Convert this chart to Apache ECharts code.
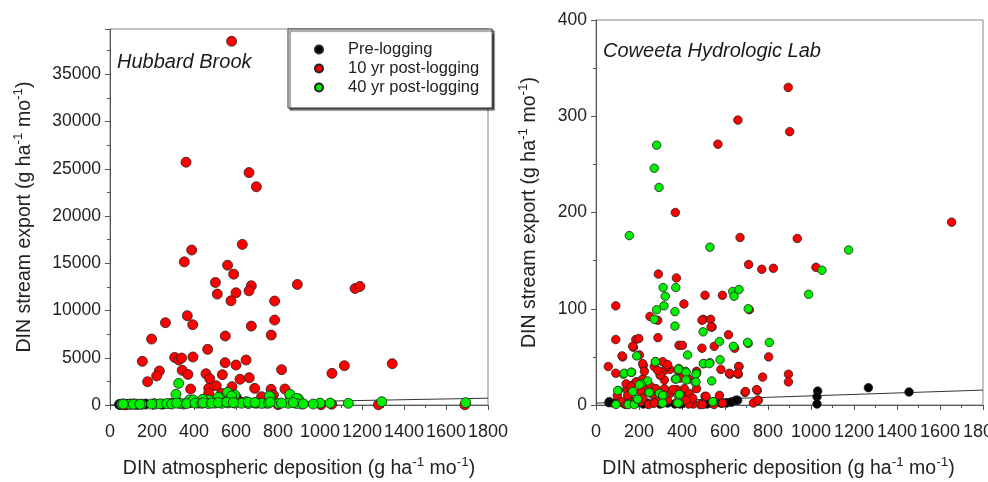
<!DOCTYPE html>
<html><head><meta charset="utf-8">
<script src="https://cdn.jsdelivr.net/npm/echarts@6/dist/echarts.min.js"></script>
<style>html,body{margin:0;padding:0;background:#fff}#c{width:988px;height:482px}</style>
</head><body><div id="c"></div>
<script>
// ---- Data (x = DIN atmospheric deposition, y = DIN stream export) ----
const seriesNames = ['Pre-logging', '10 yr post-logging', '40 yr post-logging'];
const xTicksMax = 1800;

const hbPre = [[45,60],[52,50],[60,100],[70,80],[80,60],[95,90],[110,100],[130,60],[170,100],[210,120],[250,90],[290,150],[330,200],[380,250],[420,200],[470,300],[520,350],[560,400],[600,850],[610,500],[650,300],[700,250],[740,200]];
const hb10 = [[579,38500],[362,25700],[662,24600],[697,23100],[630,17000],[389,16400],[354,15150],[560,14800],[589,13850],[502,12970],[673,12620],[892,12760],[1167,12330],[1190,12550],[511,11740],[600,11880],[662,12090],[576,11030],[784,11000],[368,9450],[264,8710],[394,8500],[784,8990],[673,8350],[198,6980],[549,7300],[768,7400],[465,5890],[154,4620],[308,5040],[327,4760],[341,4970],[395,5080],[548,4480],[600,4230],[648,4760],[817,3740],[235,3600],[222,3070],[344,3670],[371,3240],[457,3310],[475,2780],[535,3210],[619,2720],[663,2890],[179,2460],[1057,3350],[1116,4160],[1344,4370],[384,1690],[506,2040],[581,1940],[689,1760],[767,1660],[833,1690],[857,990],[470,1760],[470,1230],[532,1230],[738,700],[778,1060],[722,880],[1056,80],[1278,30],[1690,20],[800,40],[1005,30],[71,20],[290,150],[430,250],[620,300],[700,200],[520,400],[350,100]];
const hb40 = [[327,2290],[314,1130],[560,1340],[594,1060],[525,640],[765,880],[898,640],[379,530],[470,530],[648,350],[1294,350],[1694,250],[1135,180],[1048,200],[1000,200],[968,100],[913,100],[579,950],[516,810],[441,600],[759,950],[857,1130],[889,700],[397,530],[56,80],[95,80],[119,100],[151,80],[214,100],[238,120],[270,150],[294,100],[333,180],[365,150],[405,200],[437,180],[468,150],[500,200],[532,180],[563,220],[595,200],[627,180],[659,150],[690,200],[722,170],[754,180],[802,160],[849,180],[889,160],[63,100],[111,90],[143,80],[198,100],[317,200],[444,230],[484,200],[516,250],[556,300],[587,250],[659,300],[690,260],[762,300],[817,200],[873,250],[921,120]];
const hbFit = [[0,0],[1800,720]];

const cwPre = [[1267,18],[1456,13.5],[1031,14.5],[1028,8.6],[1028,1],[659,5],[631,3],[607,2],[585,2],[60,2.4],[81,2],[62,3.5],[109,3.5],[155,2],[240,2],[287,3],[333,2],[403,1.5],[450,2],[504,2],[581,2],[628,3],[651,5],[127,2],[189,2],[220,1],[267,2],[298,1],[329,3],[367,1],[391,1],[515,1],[533,2],[553,2]];
const cw10 = [[894,330],[660,296],[567,271],[901,284],[369,200],[1654,190],[670,174],[936,173],[710,146],[771,141],[825,142],[1023,143],[92,103],[290,136],[374,132],[507,114],[588,114],[409,105],[713,99],[251,92],[287,88],[499,89],[533,89],[540,81],[616,73],[92,68],[185,68],[199,69],[174,60],[288,70],[386,62],[402,62],[550,61],[645,59],[803,50],[124,50],[57,40],[92,33],[220,41],[313,35],[344,37],[318,26],[431,27],[468,35],[581,37],[623,32],[662,32],[665,40],[775,29],[895,32],[895,24],[693,13],[750,15],[755,5],[732,2],[507,9],[574,10],[468,17],[453,1],[484,0.5],[549,0.5],[99,10],[143,16],[163,20],[189,24],[217,27],[239,17],[264,11],[245,0.5],[208,3.5],[134,1],[344,12],[375,16],[406,12],[427,9],[391,28],[329,40],[298,31],[152,9],[118,3.5],[281,3.5],[375,2.4],[431,1],[171,61],[121,51],[202,52],[217,43],[225,35],[271,40],[287,36],[493,59],[535,81],[493,88],[620,33],[664,40],[659,33],[695,14],[747,16],[752,5],[140,22],[186,24],[163,19],[209,14],[147,10],[217,7],[256,19],[279,17],[318,17],[357,16],[411,17],[434,12],[450,7],[419,5],[333,5],[271,2],[178,2],[140,0.5],[512,9],[496,0.5],[589,2],[310,45],[333,42],[380,36]];
const cw40 = [[282,270],[271,246],[293,226],[155,176],[530,164],[1175,161],[1051,140],[989,115],[312,122],[322,113],[316,103],[282,99],[271,89],[371,122],[367,97],[367,82],[636,118],[642,113],[665,120],[708,100],[708,64],[806,65],[498,76],[639,61],[574,66],[577,47],[530,44],[502,43],[538,25],[546,3.5],[426,52],[385,38],[416,35],[468,33],[369,27],[460,24],[189,51],[166,34],[127,32],[277,45],[240,25],[209,22],[104,15],[246,13],[293,12],[316,10],[383,10],[93,0.5],[150,0.5],[178,0.5],[306,2],[386,2],[192,6],[705,65],[499,43],[527,43],[132,33],[163,34],[276,45],[384,37],[419,34],[419,26],[372,27],[202,21],[171,14],[101,15],[248,13],[295,12],[310,10],[388,11],[194,6],[310,2],[380,2],[543,3.5],[465,32],[465,24]];
const cwFit = [[0,2],[1800,15.5]];

const panelTitles = ['Hubbard Brook', 'Coweeta Hydrologic Lab'];
const xTitle = 'DIN atmospheric deposition (g ha{sup|-1} mo{sup|-1})';
const yTitle = 'DIN stream export (g ha{sup|-1} mo{sup|-1})';

// ---- Styling ----
const FF = '"Liberation Sans", Arial, sans-serif';
const colors = ['#000000', '#ff0000', '#00ee00'];
const axisCol = '#555';
const richSup = { sup: { fontSize: 13.5, fontFamily: FF, color: '#222', verticalAlign: 'top', lineHeight: 8 } };
const plain = v => String(v);

function xAxis(gi, shift) {
  return {
    type: 'value', gridIndex: gi, min: 0, max: xTicksMax, interval: 200,
    name: xTitle, nameLocation: 'middle', nameGap: 50,
    nameTextStyle: { fontFamily: FF, fontSize: 19.5, color: '#222', lineHeight: 27, rich: richSup, padding: [0, shift, 0, 0] },
    axisLine: { show: true, onZero: false, lineStyle: { color: axisCol } },
    axisTick: { show: true, length: 5, lineStyle: { color: axisCol } },
    minorTick: { show: true, splitNumber: 2, length: 3, lineStyle: { color: axisCol } },
    axisLabel: { fontFamily: FF, fontSize: 18, color: '#222', margin: 18, formatter: plain },
    splitLine: { show: false }
  };
}
function yAxis(gi, max, interval, gap) {
  return {
    type: 'value', gridIndex: gi, min: 0, max: max, interval: interval,
    name: yTitle, nameLocation: 'middle', nameGap: gap, nameRotate: 90,
    nameTextStyle: { fontFamily: FF, fontSize: 19.5, color: '#222', lineHeight: 27, rich: richSup },
    axisLine: { show: true, onZero: false, lineStyle: { color: axisCol } },
    axisTick: { show: true, length: 5, lineStyle: { color: axisCol } },
    minorTick: { show: true, splitNumber: 2, length: 3, lineStyle: { color: axisCol } },
    axisLabel: { fontFamily: FF, fontSize: 17.5, color: '#222', margin: 9, formatter: plain, showMaxLabel: max % interval === 0 },
    splitLine: { show: false }
  };
}
function scatter(name, data, gi, size, ci) {
  return {
    type: 'scatter', name: name, data: data, xAxisIndex: gi, yAxisIndex: gi,
    symbol: 'circle', symbolSize: size,
    itemStyle: { color: colors[ci], borderColor: '#222', borderWidth: 0.8, opacity: 1 },
    emphasis: { disabled: true }, z: 3 + ci
  };
}
function fit(data, gi) {
  return {
    type: 'line', data: data, xAxisIndex: gi, yAxisIndex: gi, symbol: 'none',
    lineStyle: { color: '#333', width: 1 }, z: 2, silent: true
  };
}

const chart = echarts.init(document.getElementById('c'), null, { renderer: 'canvas' });
chart.setOption({
  animation: false,
  backgroundColor: '#fff',
  grid: [
    { left: 110, top: 29, width: 378, height: 376, containLabel: false, outerBoundsMode: 'none', show: true, borderColor: '#888', borderWidth: 1, backgroundColor: 'transparent' },
    { left: 596, top: 20, width: 387, height: 385, containLabel: false, outerBoundsMode: 'none', show: true, borderColor: '#888', borderWidth: 1, backgroundColor: 'transparent' }
  ],
  xAxis: [xAxis(0, 0), xAxis(1, 22)],
  yAxis: [yAxis(0, 39800, 5000, 72), yAxis(1, 400, 100, 53)],
  legend: {
    data: seriesNames, orient: 'vertical', left: 288, top: 29,
    itemWidth: 48, itemHeight: 8, itemGap: 2, selectedMode: false,
    padding: [12, 13, 12, 26],
    backgroundColor: '#fff', borderColor: '#333', borderWidth: 1,
    shadowColor: 'rgba(0,0,0,0.7)', shadowOffsetX: 2, shadowOffsetY: 2, shadowBlur: 1,
    textStyle: { fontFamily: FF, fontSize: 16.5, color: '#222', lineHeight: 17 }
  },
  graphic: [
    { type: 'text', left: 117, top: 52, style: { text: panelTitles[0], font: 'italic 20px ' + FF, fill: '#1a1a1a' } },
    { type: 'text', left: 603, top: 41, style: { text: panelTitles[1], font: 'italic 20px ' + FF, fill: '#1a1a1a' } }
  ],
  series: [
    fit(hbFit, 0), fit(cwFit, 1),
    scatter(seriesNames[0], hbPre, 0, 10, 0),
    scatter(seriesNames[1], hb10, 0, 10, 1),
    scatter(seriesNames[2], hb40, 0, 10, 2),
    scatter(seriesNames[0], cwPre, 1, 8.5, 0),
    scatter(seriesNames[1], cw10, 1, 8.5, 1),
    scatter(seriesNames[2], cw40, 1, 8.5, 2)
  ]
});
</script>
</body></html>
